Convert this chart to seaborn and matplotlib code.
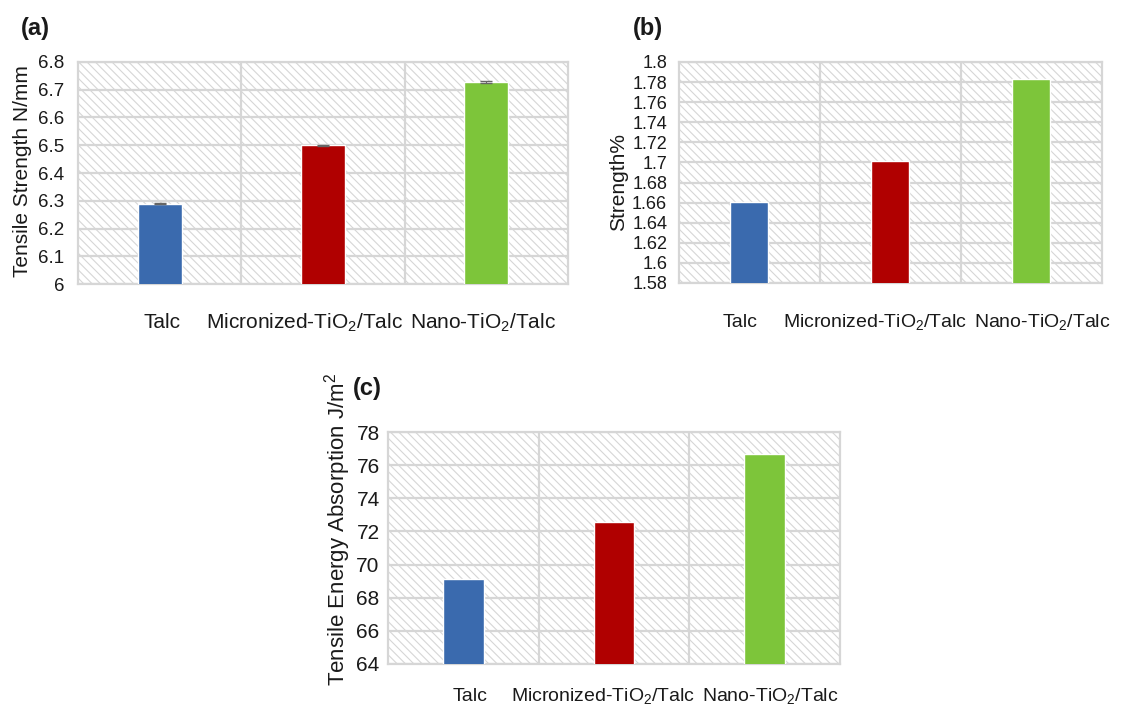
import numpy as np
import pandas as pd
import matplotlib
matplotlib.use("Agg")
import matplotlib.pyplot as plt
import seaborn as sns
from matplotlib.patches import Rectangle

# data
categories = ["Talc", "Micronized-TiO$_2$/Talc", "Nano-TiO$_2$/Talc"]
bar_colors = ["#3a6aae", "#b00000", "#7dc53a"]

tensile_strength = [6.29, 6.50, 6.728]
tensile_strength_err = [0.002, 0.002, 0.002]
strength_pct = [1.661, 1.701, 1.783]
tea = [69.13, 72.55, 76.67]

ticks_a = [6, 6.1, 6.2, 6.3, 6.4, 6.5, 6.6, 6.7, 6.8]
ticks_b = [1.58, 1.6, 1.62, 1.64, 1.66, 1.68, 1.7, 1.72, 1.74, 1.76, 1.78, 1.8]
ticks_c = [64, 66, 68, 70, 72, 74, 76, 78]

sns.set_theme(style="white")
plt.rcParams['font.family'] = ['Liberation Sans', 'DejaVu Sans']
plt.rcParams['mathtext.fontset'] = 'custom'
plt.rcParams['mathtext.rm'] = 'Liberation Sans'
plt.rcParams['mathtext.it'] = 'Liberation Sans:italic'
plt.rcParams['hatch.linewidth'] = 0.8

GRID = "#d6d6d6"
TXT = "#1a1a1a"

fig = plt.figure(figsize=(11.43, 7.06), dpi=100)


def panel(rect, values, ticks, ylabel, tag, tag_xy, tick_fs, x_fs, y_fs,
          ypad, xpad, x_shift, lab_xy, err=None):
    ax = fig.add_axes(rect)
    df = pd.DataFrame({"cat": categories, "val": values})
    sns.barplot(data=df, x="cat", y="val", hue="cat", palette=bar_colors,
                width=0.27, legend=False, saturation=1, ax=ax, zorder=3)
    if err is not None:
        ax.errorbar(range(len(values)), values, yerr=err, fmt="none",
                    ecolor="#666666", capsize=4, lw=0.8, zorder=4)
    # hatched plot area
    ax.add_patch(Rectangle((0, 0), 1, 1, transform=ax.transAxes, fill=False,
                           hatch="\\\\\\\\", edgecolor="#d6d6d6", lw=0, zorder=0))
    ax.set_xlim(-0.5, 2.5)
    ax.set_ylim(ticks[0], ticks[-1])
    ax.set_yticks(ticks)
    ax.set_yticklabels([f"{t:g}" for t in ticks])
    ax.set_xticks([0.5, 1.5], minor=True)
    ax.set_xticklabels([])
    ax.grid(True, axis="y", which="major", color=GRID, lw=1.6, zorder=1)
    ax.grid(True, axis="x", which="minor", color=GRID, lw=1.6, zorder=1)
    ax.grid(False, axis="x", which="major")
    ax.tick_params(axis="both", which="both", length=0, colors=TXT)
    ax.tick_params(axis="y", labelsize=tick_fs, pad=ypad)
    for s in ax.spines.values():
        s.set_color(GRID)
        s.set_linewidth(1.6)
    # category labels sitting on a common baseline
    for i, c in enumerate(categories):
        ax.annotate(c, xy=(i, 0), xycoords=("data", "axes fraction"),
                    xytext=(x_shift[i], -xpad), textcoords="offset points",
                    ha="center", va="baseline", fontsize=x_fs, color=TXT)
    ax.set_xlabel("")
    ax.set_ylabel(ylabel, fontsize=y_fs, color=TXT)
    ax.yaxis.set_label_coords(*lab_xy)
    fig.text(tag_xy[0], tag_xy[1], tag, fontsize=17, fontweight="bold",
             ha="left", va="center", color=TXT)
    return ax


panel([0.0682, 0.5977, 0.4287, 0.3145], tensile_strength, ticks_a,
      "Tensile Strength N/mm", "(a)", (0.0185, 0.960),
      tick_fs=13.5, x_fs=15, y_fs=15, ypad=10, xpad=32,
      x_shift=[2, -13, -2], lab_xy=(-0.094, 0.51), err=tensile_strength_err)
panel([0.594, 0.5992, 0.3701, 0.3130], strength_pct, ticks_b,
      "Strength%", "(b)", (0.5535, 0.960),
      tick_fs=13, x_fs=14, y_fs=15, ypad=8.5, xpad=32,
      x_shift=[-7, -11, 8], lab_xy=(-0.121, 0.459))
panel([0.3395, 0.0595, 0.3954, 0.3286], tea, ticks_c,
      "Tensile Energy Absorption J/m$^2$", "(c)", (0.3085, 0.4504),
      tick_fs=15, x_fs=14, y_fs=16, ypad=6, xpad=27,
      x_shift=[5, -8, 4], lab_xy=(-0.077, 0.58))

fig.savefig("out.png", dpi=100)
